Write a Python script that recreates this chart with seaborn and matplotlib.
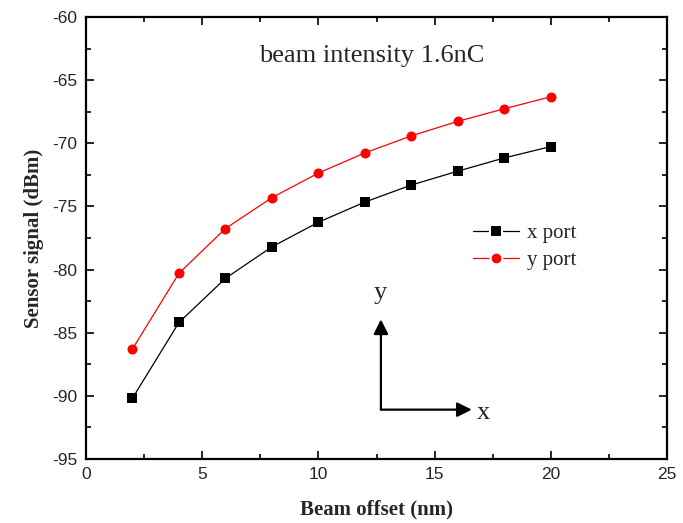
import matplotlib
matplotlib.use("Agg")
import matplotlib.pyplot as plt
import seaborn as sns
import pandas as pd
from matplotlib.ticker import MultipleLocator

beam_offset = [2, 4, 6, 8, 10, 12, 14, 16, 18, 20]
x_port = [-90.2, -84.2, -80.7, -78.2, -76.25, -74.65, -73.3, -72.2, -71.15, -70.25]
y_port = [-86.3, -80.3, -76.75, -74.3, -72.35, -70.75, -69.4, -68.25, -67.25, -66.3]
series_names = ["x port", "y port"]
series_colors = ["black", "#ff0000"]
series_markers = ["s", "o"]
title_text = "beam intensity 1.6nC"

df = pd.DataFrame({
    "offset": beam_offset * 2,
    "signal": x_port + y_port,
    "port": [series_names[0]] * len(beam_offset) + [series_names[1]] * len(beam_offset),
})

sns.set_style("ticks")
plt.rcParams["font.family"] = ["Liberation Serif", "DejaVu Serif"]
plt.rcParams["axes.unicode_minus"] = False

fig = plt.figure(figsize=(6.83, 5.23), dpi=100)
ax = fig.add_axes([86 / 683, 1 - 458.7 / 523, 581 / 683, 441.4 / 523])

sns.lineplot(data=df, x="offset", y="signal", hue="port", style="port",
             palette=dict(zip(series_names, series_colors)),
             markers=dict(zip(series_names, series_markers)),
             dashes=False, markersize=7.2, markeredgewidth=0, linewidth=0.9,
             ax=ax, legend=True)

ax.set_xlim(0, 25)
ax.set_ylim(-95, -60)
ax.xaxis.set_major_locator(MultipleLocator(5))
ax.xaxis.set_minor_locator(MultipleLocator(2.5))
ax.yaxis.set_major_locator(MultipleLocator(5))
ax.yaxis.set_minor_locator(MultipleLocator(2.5))
ax.tick_params(which="both", direction="in", top=True, right=True, width=1.2, color="black")
ax.tick_params(which="major", length=6, pad=6)
ax.tick_params(which="minor", length=3.5)
for lab in ax.get_xticklabels() + ax.get_yticklabels():
    lab.set_fontfamily(["Liberation Sans", "DejaVu Sans"])
    lab.set_fontsize(12.5)
for sp in ax.spines.values():
    sp.set_linewidth(1.6)
    sp.set_color("black")

ax.set_xlabel("Beam offset (nm)", fontsize=15, fontweight="bold")
ax.set_ylabel("Sensor signal (dBm)", fontsize=15, fontweight="bold")
ax.xaxis.set_label_coords(0.5, -0.093)
ax.yaxis.set_label_coords(-0.072, 0.5)

ax.text(12.3, -63.1, title_text, fontsize=19, ha="center", va="center")

leg = ax.legend(loc="upper left", bbox_to_anchor=(0.652, 0.552), frameon=False,
                fontsize=15, handlelength=2.2, handletextpad=0.4,
                labelspacing=0.35, borderaxespad=0, numpoints=1)
for h in leg.legend_handles:
    h.set_markeredgecolor("white")
    h.set_markeredgewidth(1.5)
    h.set_markersize(8.5)

# coordinate-system arrows
ax.annotate("", xy=(12.69, -83.95), xytext=(12.69, -91.11),
            arrowprops=dict(arrowstyle="-|>", lw=1.6, color="black",
                            mutation_scale=22, shrinkA=0, shrinkB=0))
ax.annotate("", xy=(16.6, -91.11), xytext=(12.69, -91.11),
            arrowprops=dict(arrowstyle="-|>", lw=1.6, color="black",
                            mutation_scale=22, shrinkA=0, shrinkB=0))
ax.text(12.65, -81.9, "y", fontsize=19, ha="center", va="center")
ax.text(17.1, -91.4, "x", fontsize=19, ha="center", va="center")

fig.savefig("out.png", dpi=100)
